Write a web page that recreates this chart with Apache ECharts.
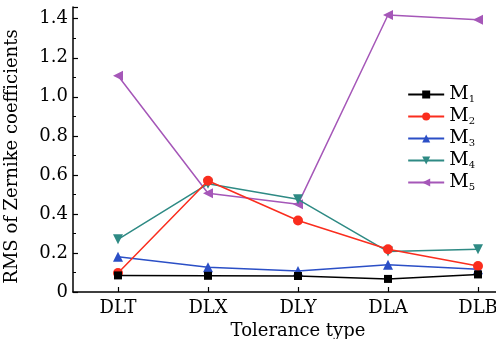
<!DOCTYPE html>
<html>
<head>
<meta charset="utf-8">
<script src="https://cdn.jsdelivr.net/npm/echarts@6/dist/echarts.min.js"></script>
<style>
html, body { margin: 0; padding: 0; background: #fff; }
#chart { width: 496px; height: 339px; }
</style>
</head>
<body>
<div id="chart"></div>
<script>
var categories = ['DLT', 'DLX', 'DLY', 'DLA', 'DLB'];
var m1 = [0.085, 0.083, 0.082, 0.067, 0.090];
var m2 = [0.097, 0.570, 0.366, 0.219, 0.133];
var m3 = [0.181, 0.127, 0.108, 0.140, 0.116];
var m4 = [0.270, 0.554, 0.475, 0.207, 0.219];
var m5 = [1.108, 0.506, 0.450, 1.419, 1.395];

var names = ['M1', 'M2', 'M3', 'M4', 'M5'];
var colors = ['#000000', '#fa2d1e', '#2b4fc6', '#2e8a84', '#a557b8'];
var symbols = ['rect', 'circle', 'triangle', 'triangle', 'triangle'];
var rotates = [0, 0, 0, 180, 90];
var values = [m1, m2, m3, m4, m5];

var font = 'DejaVu Serif';

function makeSeries(i) {
    return {
        name: names[i],
        type: 'line',
        data: values[i],
        symbol: symbols[i],
        symbolRotate: rotates[i],
        symbolSize: i == 0 ? 8 : 10,
        itemStyle: {color: colors[i]},
        lineStyle: {color: colors[i], width: 1.5},
        z: 10 - i
    };
}

var series = [];
for (var i = 0; i < names.length; i++) {
    series.push(makeSeries(i));
}

var chart = echarts.init(document.getElementById('chart'));
chart.setOption({
    animation: false,
    grid: {left: 73, right: -27, top: 7, bottom: 47, outerBoundsMode: 'none', containLabel: false},
    legend: {
        orient: 'vertical',
        right: 16,
        top: 80,
        itemGap: 3,
        itemWidth: 36,
        itemHeight: 10,
        data: names,
        formatter: function (name) {
            return '{m|M}{s|' + name.slice(1) + '}';
        },
        textStyle: {
            rich: {
                m: {fontFamily: font, fontSize: 19, color: '#000'},
                s: {fontFamily: font, fontSize: 10, color: '#000', verticalAlign: 'bottom', padding: [9, 0, 0, 0]}
            }
        }
    },
    xAxis: {
        type: 'category',
        data: categories,
        boundaryGap: true,
        name: 'Tolerance type',
        nameLocation: 'middle',
        nameGap: 22,
        nameTextStyle: {fontFamily: font, fontSize: 18, color: '#000'},
        axisLine: {lineStyle: {color: '#000', width: 1.5}},
        axisTick: {show: true, inside: true, alignWithLabel: true, length: 5, lineStyle: {color: '#000', width: 1.2}},
        axisLabel: {fontFamily: font, fontSize: 18, color: '#000', margin: 7},
        splitLine: {show: false}
    },
    yAxis: {
        type: 'value',
        min: 0,
        max: 1.46,
        interval: 0.2,
        name: 'RMS of Zernike coefficients',
        nameLocation: 'middle',
        nameGap: 52,
        nameTextStyle: {fontFamily: font, fontSize: 18, color: '#000', padding: [0, 14, 0, 0]},
        axisLine: {show: true, lineStyle: {color: '#000', width: 1.5}},
        axisTick: {show: true, inside: true, length: 5, lineStyle: {color: '#000', width: 1.2}},
        minorTick: {show: true, splitNumber: 2, length: 3, lineStyle: {color: '#000', width: 1}},
        axisLabel: {
            fontFamily: font, fontSize: 18, color: '#000', margin: 5,
            formatter: function (v) { return v === 0 ? '0' : v.toFixed(1); }
        },
        splitLine: {show: false}
    },
    series: series
});
</script>
</body>
</html>
